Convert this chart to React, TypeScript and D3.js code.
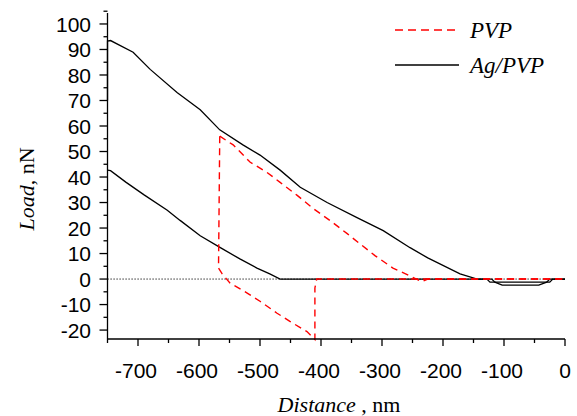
import * as d3 from 'd3';

// Ag/PVP curves (black solid)
const agLoad: [number, number][] = [
  [-750, 70], [-750, 93.3], [-745, 93.5], [-708, 88.9], [-680, 82.2], [-636, 73.1],
  [-598, 66.4], [-566, 58.5], [-528, 52.6], [-500, 48.6], [-467, 42.7], [-434, 36],
  [-390, 30], [-341, 24.1], [-298, 19], [-254, 12.3], [-225, 8.3], [-172, 2],
  [-144, 0], [-128, 0], [-123, -1.2], [-25, -1.2], [-20, 0], [0, 0],
];
const agUnload: [number, number][] = [
  [-750, 42.7], [-745, 42.5], [-720, 38], [-690, 33], [-652, 27], [-631, 23],
  [-598, 17], [-565, 12.3], [-533, 7.9], [-505, 4.3], [-484, 2], [-467, 0],
  [-120, 0], [-115, -1.2], [-103, -2.4], [-43, -2.4], [-30, -1.2], [-25, 0], [0, 0],
];
// PVP curves (red dashed)
const pvpLoad: [number, number][] = [
  [-566, 56], [-544, 52.6], [-516, 45.8], [-489, 41.9], [-467, 37.9], [-439, 32.8],
  [-413, 27.7], [-385, 22.9], [-357, 17.8], [-336, 13.8], [-311, 9.1], [-282, 4.3],
  [-254, 1.2], [-235, -1], [-225, 0], [0, 0],
];
const pvpUnload: [number, number][] = [
  [-566, 56], [-568, 4.3], [-562, 2], [-549, -1.6], [-521, -5.5], [-500, -8.7],
  [-472, -13.4], [-451, -16.6], [-423, -20.6], [-410, -23.7], [-410, -3.5], [-407, 0], [0, 0],
];

const xMajor = [-700, -600, -500, -400, -300, -200, -100, 0];
const yMajor = [-20, -10, 0, 10, 20, 30, 40, 50, 60, 70, 80, 90, 100];
const legendItems = [
  { label: 'PVP', color: '#ff0000', dash: '8,5' },
  { label: 'Ag/PVP', color: '#000', dash: null },
];

const width = 577, height = 416;
const x = d3.scaleLinear().domain([-750, 0]).range([107.5, 565]);
const y = d3.scaleLinear().domain([-23.5, 104.3]).range([339, 13]);

const xMinor = d3.range(-750, 1, 50).filter(v => !xMajor.includes(v));
const yMinor = d3.range(-20, 106, 5).filter(v => !yMajor.includes(v));

const line = d3.line<[number, number]>().x(d => x(d[0])).y(d => y(d[1]));

const tickFont = '"Liberation Sans", Arial, sans-serif';
const serif = '"Liberation Serif", "Times New Roman", serif';

export default function App() {
  return (
    <svg width={width} height={height} style={{ position: 'absolute', left: 0, top: 0, background: '#fff' }}>
      {/* zero line */}
      <line x1={x(-750)} x2={x(0)} y1={y(0)} y2={y(0)} stroke="#000" strokeWidth={1} strokeDasharray="1.2,1.8" />

      {[agLoad, agUnload].map((d, i) => (
        <path key={'a' + i} d={line(d) ?? ''} fill="none" stroke="#000" strokeWidth={1.3} />
      ))}
      {[pvpLoad, pvpUnload].map((d, i) => (
        <path key={'p' + i} d={line(d) ?? ''} fill="none" stroke="#ff0000" strokeWidth={1.4} strokeDasharray="7,5" />
      ))}

      {/* axes */}
      <line x1={x(-750)} x2={x(-750)} y1={13} y2={339} stroke="#000" strokeWidth={1.3} />
      <line x1={x(-750)} x2={x(0)} y1={339} y2={339} stroke="#000" strokeWidth={1.3} />
      {yMajor.map(v => (
        <g key={'ym' + v}>
          <line x1={x(-750) - 8} x2={x(-750)} y1={y(v)} y2={y(v)} stroke="#000" strokeWidth={1.3} />
          <text x={91} y={y(v)} dy="0.36em" textAnchor="end" fontFamily={tickFont} fontSize={21}>
            {v < 0 ? '-' + Math.abs(v) : v}
          </text>
        </g>
      ))}
      {yMinor.map(v => (
        <line key={'yn' + v} x1={x(-750) - 4} x2={x(-750)} y1={y(v)} y2={y(v)} stroke="#000" strokeWidth={1.3} />
      ))}
      {xMajor.map(v => (
        <g key={'xm' + v}>
          <line x1={x(v)} x2={x(v)} y1={339} y2={346} stroke="#000" strokeWidth={1.3} />
          <text x={x(v) - (v < 0 ? 2 : 0)} y={378} textAnchor="middle" fontFamily={tickFont} fontSize={21}>
            {v < 0 ? '-' + Math.abs(v) : v}
          </text>
        </g>
      ))}
      {xMinor.map(v => (
        <line key={'xn' + v} x1={x(v)} x2={x(v)} y1={339} y2={343} stroke="#000" strokeWidth={1.3} />
      ))}

      {/* axis titles */}
      <text x={339} y={412} textAnchor="middle" fontFamily={serif} fontSize={22}>
        <tspan fontStyle="italic">Distance</tspan> , nm
      </text>
      <text transform="translate(34,189) rotate(-90)" textAnchor="middle" fontFamily={serif} fontSize={22}>
        <tspan fontStyle="italic">Load</tspan>, nN
      </text>

      {/* legend */}
      {legendItems.map((it, i) => (
        <g key={it.label} transform={`translate(395,${30 + i * 35})`}>
          <line x1={0} x2={64} y1={0} y2={0} stroke={it.color} strokeWidth={1.5}
            strokeDasharray={it.dash ?? undefined} />
          <text x={75} y={8} fontFamily={serif} fontStyle="italic" fontSize={23}>{it.label}</text>
        </g>
      ))}
    </svg>
  );
}
